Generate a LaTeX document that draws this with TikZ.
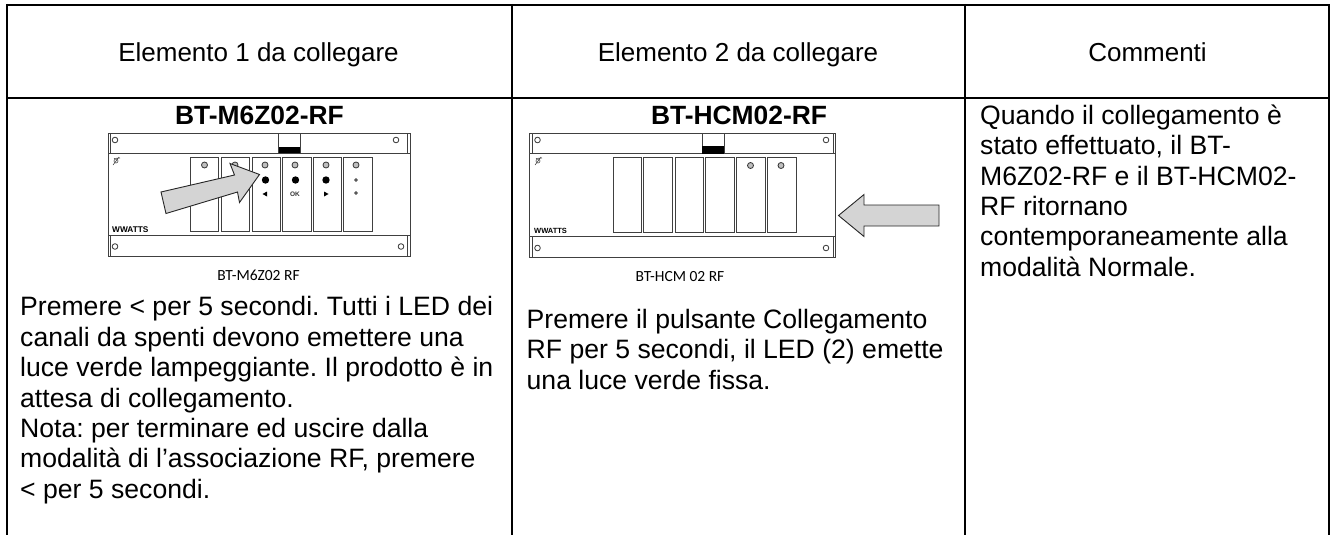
\documentclass[tikz,border=0pt]{standalone}
\usepackage{fontspec}
\setmainfont{Liberation Sans}
\newfontfamily\cali{Carlito}
\frenchspacing
\tikzset{
  x=1pt,y=-1pt,
  rule/.style={line width=2pt,black},
  headtxt/.style={font=\fontsize{26}{30}\selectfont,anchor=base,inner sep=0},
  titletxt/.style={font=\fontsize{26.4}{30}\selectfont\bfseries,anchor=base,inner sep=0},
  bodytxt/.style={font=\frenchspacing\fontsize{26.6}{30.4}\selectfont,align=left,anchor=north west,inner sep=0},
  devcap/.style={font=\cali\fontsize{15.5}{18}\selectfont,anchor=center,inner sep=0},
  logotxt/.style={font=\fontsize{8.3}{9}\selectfont\bfseries,anchor=west,inner sep=0,text=black},
  dev/.style={draw=black!75,line width=0.8pt,fill=white},
  lamp/.style={draw=black!80,line width=0.8pt,fill=black!25},
  hole/.style={draw=black!80,line width=0.8pt,fill=white},
  bigarrow/.style={draw=black!85,line width=0.9pt,fill=black!17,line join=miter},
  minitxt/.style={font=\fontsize{6.5}{7}\selectfont\bfseries,inner sep=0,text=black!80},
}
\newcommand{\devbody}[6]{% x1 x2 y1 y2 b1 b2
  \draw[dev,line width=1pt] (#1,#3) rectangle (#2,#4);
  \draw[dev] (#1,#5) -- (#2,#5);
  \draw[dev] (#1,#6) -- (#2,#6);
  \draw[dev] (#1+2.5,#3) -- (#1+2.5,#5);
  \draw[dev] (#1+2.5,#6) -- (#1+2.5,#4);
  \draw[dev] (#2-2.5,#3) -- (#2-2.5,#5);
  \draw[dev] (#2-2.5,#6) -- (#2-2.5,#4);
}
\begin{document}
\begin{tikzpicture}
\useasboundingbox (0,0) rectangle (1332,535);
% table rules
\draw[rule] (6.5,5) -- (1329,5);
\draw[rule] (6.5,98) -- (1329,98);
\draw[rule] (6.5,4) -- (6.5,535);
\draw[rule] (512,4) -- (512,535);
\draw[rule] (965,4) -- (965,535);
\draw[rule] (1329,4) -- (1329,535);
% headers
\node[headtxt] (h1) at (258.5,61) {Elemento 1 da collegare};
\node[headtxt] (h2) at (738,61) {Elemento 2 da collegare};
\node[headtxt] (h3) at (1147.5,61) {Commenti};
\node[titletxt] (t1) at (259.5,124) {BT-M6Z02-RF};
\node[titletxt] (t2) at (739,124) {BT-HCM02-RF};

% device 1
\devbody{108}{410}{133}{256}{153}{235}
\draw[dev] (278.5,133) rectangle (300,153);
\fill[black] (278.5,147) rectangle (300,153);
\foreach \a/\b in {190.5/218.5,221/249,252/280,282.5/311,313/341,343/372}
  \draw[dev] (\a,157.5) rectangle (\b,231);
\foreach \x/\y in {115/140,396/140,115/246.5,401/246.5}
  \draw[hole] (\x,\y) circle (2.8);
\foreach \x in {204.5,235,265,295,326,356}
  \draw[lamp] (\x,165) circle (3);
\foreach \x in {265.5,295.5,326}
  \fill[black] (\x,180) circle (3.7);
\draw[lamp] (356,180) circle (1.4);
\draw[lamp] (356,193) circle (1.4);
\fill[black] (262.5,194) -- (267,191.5) -- (267,196.5) -- cycle;
\node[minitxt] (okm) at (295,194) {OK};
\fill[black] (324,191.5) -- (328.5,194) -- (324,196.5) -- cycle;
\draw[black!70,line width=0.6pt] (116,161) circle (2);
\draw[black!70,line width=0.6pt] (113,165) -- (119,157) (114,158.5) -- (120,158);
\node[logotxt] (w1) at (112,230) {WWATTS};
\draw[bigarrow] (161,192) -- (234.5,175) -- (230,163.5) -- (259.5,174.5) -- (239.5,202.5) -- (237.5,192) -- (166,213.5) -- cycle;
\node[devcap] (c1) at (258.5,275.7) {BT-M6Z02 RF};

% device 2
\devbody{529.5}{835.5}{133.5}{257}{153.5}{236.5}
\draw[dev] (702,133.5) rectangle (724,153.5);
\fill[black] (702,145.5) rectangle (724,153.5);
\foreach \a/\b in {613/641.5,643.5/672.5,675.5/703.5,705.5/734,736.5/765,767/796.5}
  \draw[dev] (\a,157.5) rectangle (\b,232.5);
\foreach \x/\y in {537.5/140,826/140,537.5/248,826/248}
  \draw[hole] (\x,\y) circle (2.8);
\foreach \x in {750.5,781}
  \draw[lamp] (\x,165.5) circle (3);
\draw[black!70,line width=0.6pt] (538,161) circle (2);
\draw[black!70,line width=0.6pt] (535,165) -- (541,157) (536,158.5) -- (542,158);
\node[logotxt,font=\fontsize{7.5}{9}\selectfont\bfseries] (w2) at (534,230.7) {WWATTS};
\draw[bigarrow] (838.5,215.5) -- (864,194.5) -- (864,205) -- (939,205) -- (939,226) -- (864,226) -- (864,236.5) -- cycle;
\node[devcap] (c2) at (680,276.7) {BT-HCM 02 RF};

% body text
\node[bodytxt] (b1) at (20,296.5) {Premere < per 5 secondi. Tutti i LED dei\\canali da spenti devono emettere una\\luce verde lampeggiante. Il prodotto è in\\attesa di collegamento.\\Nota: per terminare ed uscire dalla\\modalità di l’associazione RF, premere\\< per 5 secondi.};
\node[bodytxt] (b2) at (526.5,309) {Premere il pulsante Collegamento\\RF per 5 secondi, il LED (2) emette\\una luce verde fissa.};
\node[bodytxt] (b3) at (980,104.5) {Quando il collegamento è\\stato effettuato, il BT-\\M6Z02-RF e il BT-HCM02-\\RF ritornano\\contemporaneamente alla\\modalità Normale.};
\end{tikzpicture}
\end{document}
